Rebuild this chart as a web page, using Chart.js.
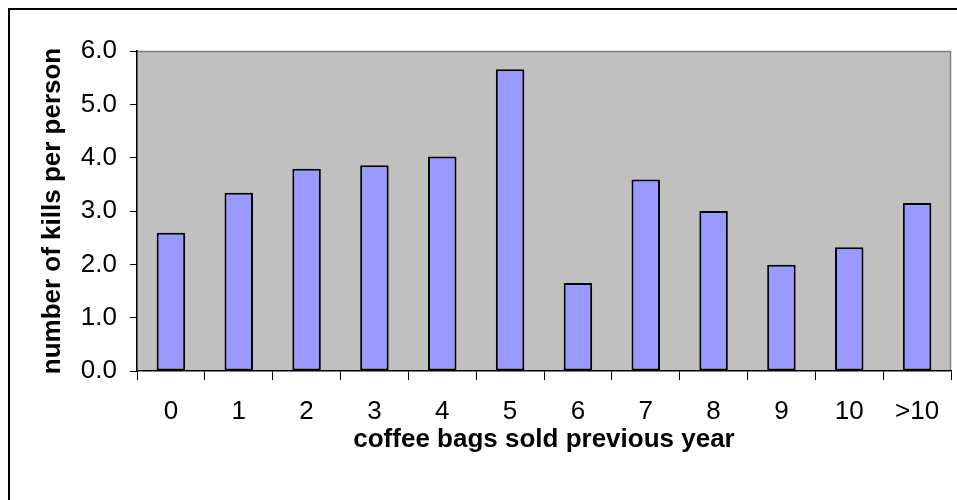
<!DOCTYPE html>
<html>
<head>
<meta charset="utf-8">
<script src="https://cdn.jsdelivr.net/npm/chart.js@4/dist/chart.umd.min.js"></script>
<style>
  html, body { margin: 0; padding: 0; background: #ffffff; }
  #wrap { width: 957px; height: 500px; position: relative; }
  canvas { display: block; }
</style>
</head>
<body>
<div id="wrap"><canvas id="chart" width="957" height="500"></canvas></div>
<script>
// Bag-count groups and average kills per person in each group
const categories = ['0', '1', '2', '3', '4', '5', '6', '7', '8', '9', '10', '>10'];
const killsPerPerson = [2.59, 3.34, 3.79, 3.86, 4.02, 5.66, 1.65, 3.59, 3.00, 1.99, 2.32, 3.15];
const yTicks = [0, 1, 2, 3, 4, 5, 6];

const xTitle = 'coffee bags sold previous year';
const yTitle = 'number of kills per person';

Chart.defaults.font.family = '"Liberation Sans", Arial, sans-serif';
Chart.defaults.color = '#000000';

// Frame of the whole figure plus the grey plot background
const framePlugin = {
  id: 'frame',
  beforeDraw(chart) {
    const ctx = chart.ctx;
    const a = chart.chartArea;
    ctx.save();
    ctx.fillStyle = '#ffffff';
    ctx.fillRect(0, 0, chart.width, chart.height);
    // outer frame (left and top edges)
    ctx.fillStyle = '#000000';
    ctx.fillRect(8, 8, chart.width - 8, 2);
    ctx.fillRect(8, 8, 2, chart.height - 8);
    // plot area
    ctx.fillStyle = '#c0c0c0';
    ctx.fillRect(a.left, a.top, a.right - a.left, a.bottom - a.top);
    ctx.strokeStyle = '#808080';
    ctx.lineWidth = 1.5;
    ctx.beginPath();
    ctx.moveTo(a.left, a.top + 0.5);
    ctx.lineTo(a.right - 0.5, a.top + 0.5);
    ctx.lineTo(a.right - 0.5, a.bottom);
    ctx.stroke();
    ctx.restore();
  }
};

new Chart(document.getElementById('chart'), {
  type: 'bar',
  data: {
    labels: categories,
    datasets: [{
      data: killsPerPerson,
      backgroundColor: '#9999ff',
      borderColor: '#000000',
      borderWidth: 2,
      borderSkipped: false,
      barPercentage: 0.42,
      categoryPercentage: 1.0
    }]
  },
  options: {
    responsive: false,
    devicePixelRatio: 1,
    animation: false,
    layout: { padding: { top: 51, right: 6, left: 0, bottom: 0 } },
    plugins: {
      legend: { display: false },
      tooltip: { enabled: false }
    },
    scales: {
      x: {
        offset: true,
        grid: {
          offset: true,
          drawOnChartArea: false,
          drawTicks: true,
          tickLength: 9,
          color: '#000000',
          lineWidth: 1
        },
        border: { display: true, color: '#000000', width: 1.5 },
        ticks: {
          font: { size: 26 },
          color: '#000000',
          padding: 16,
          maxRotation: 0,
          autoSkip: false
        },
        title: {
          display: true,
          text: xTitle,
          font: { size: 26, weight: 'bold' },
          color: '#000000',
          padding: { top: 0, bottom: 45 }
        },
        afterFit(scale) { scale.height = 129; }
      },
      y: {
        min: 0,
        max: 6,
        afterBuildTicks(scale) { scale.ticks = yTicks.map(v => ({ value: v })); },
        grid: {
          drawOnChartArea: false,
          drawTicks: true,
          tickLength: 7,
          color: '#000000',
          lineWidth: 1
        },
        border: { display: true, color: '#000000', width: 1.5 },
        ticks: {
          font: { size: 26 },
          color: '#000000',
          padding: 13,
          callback: v => Number(v).toFixed(1)
        },
        title: {
          display: true,
          text: yTitle,
          font: { size: 26, weight: 'bold' },
          color: '#000000',
          padding: { top: 37, bottom: 0 }
        },
        afterFit(scale) { scale.width = 137; }
      }
    }
  },
  plugins: [framePlugin]
});
</script>
</body>
</html>
